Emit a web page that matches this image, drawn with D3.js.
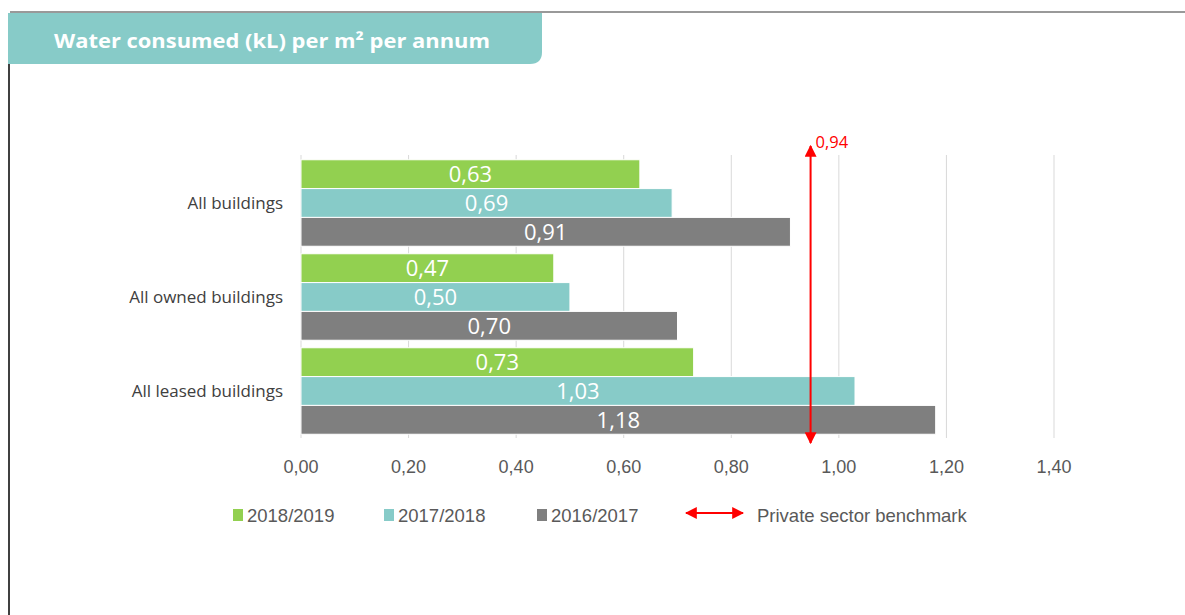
<!DOCTYPE html>
<html lang="en">
<head>
<meta charset="UTF-8">
<title>Water consumed per m2</title>
<style>
  body { margin: 0; background: #fff; }
  svg { display: block; }
</style>
</head>
<body>
<script src="https://cdn.jsdelivr.net/npm/d3@7"></script>
<div id="chart"></div>
<script>
// data
const categories = ["All buildings", "All owned buildings", "All leased buildings"];
const seriesNames = ["2018/2019", "2017/2018", "2016/2017"];
const v2018 = [0.63, 0.47, 0.73];
const v2017 = [0.69, 0.50, 1.03];
const v2016 = [0.91, 0.70, 1.18];
const benchmark = 0.94;
const xTicks = [0, 0.2, 0.4, 0.6, 0.8, 1.0, 1.2, 1.4];
const colors = ["#92d050", "#87cbc8", "#7f7f7f"];

const W = 1185, H = 615;
const fmt = d => d.toFixed(2).replace(".", ",");

const svg = d3.select("#chart").append("svg")
  .attr("width", W).attr("height", H);

// page frame: top rule, left rule, header tab
svg.append("line").attr("x1", 10).attr("x2", W).attr("y1", 12).attr("y2", 12)
  .attr("stroke", "#777").attr("stroke-width", 1.5);
svg.append("line").attr("x1", 9).attr("x2", 9).attr("y1", 62).attr("y2", H)
  .attr("stroke", "#000").attr("stroke-width", 1.5);
svg.append("path")
  .attr("d", "M8,13 H542 V52 Q542,64 530,64 H8 Z")
  .attr("fill", "#87cbc8");
svg.append("text")
  .attr("x", 54).attr("y", 48)
  .attr("fill", "#fff")
  .style("font-family", "'Open Sans', sans-serif")
  .style("font-weight", "bold")
  .style("font-size", "20px")
  .text("Water consumed (kL) per m² per annum")
  .each(function () {
    // stretch to the width the header text takes in the original
    const w = this.getComputedTextLength();
    d3.select(this).attr("textLength", 436).attr("lengthAdjust", "spacingAndGlyphs");
  });

// scales
const x = d3.scaleLinear().domain([0, 1.4]).range([301, 1054]);
const y = d3.scaleBand().domain(categories).range([156, 438]).paddingInner(0.08).paddingOuter(0.04);
const rows = categories.map((c, i) => ({ cat: c, vals: [v2018[i], v2017[i], v2016[i]] }));
const sub = d3.scaleBand().domain(d3.range(3)).range([0, y.bandwidth()]);

// grid
svg.append("g").selectAll("line").data(xTicks).join("line")
  .attr("x1", d => x(d)).attr("x2", d => x(d))
  .attr("y1", 155).attr("y2", 438)
  .attr("stroke", "#d9d9d9").attr("stroke-width", 1);

// tick labels
svg.append("g").selectAll("text").data(xTicks).join("text")
  .attr("x", d => x(d)).attr("y", 473)
  .attr("text-anchor", "middle")
  .attr("fill", "#595959")
  .style("font-family", "'Liberation Sans', sans-serif")
  .style("font-size", "18px")
  .text(fmt);

// category labels
svg.append("g").selectAll("text").data(categories).join("text")
  .attr("x", 283).attr("y", d => y(d) + y.bandwidth() / 2 + 6)
  .attr("text-anchor", "end")
  .attr("fill", "#404040")
  .style("font-family", "'Open Sans', sans-serif")
  .style("font-size", "17px")
  .text(d => d);

// bars
const grp = svg.append("g").selectAll("g").data(rows).join("g")
  .attr("transform", d => `translate(0,${y(d.cat)})`);
grp.selectAll("rect").data(d => d.vals).join("rect")
  .attr("x", x(0)).attr("y", (d, i) => sub(i))
  .attr("width", d => x(d) - x(0)).attr("height", sub.bandwidth())
  .attr("fill", (d, i) => colors[i])
  .attr("stroke", "#fff").attr("stroke-width", 1);
grp.selectAll("text").data(d => d.vals).join("text")
  .attr("x", d => (x(0) + x(d)) / 2)
  .attr("y", (d, i) => sub(i) + sub.bandwidth() / 2 + 8)
  .attr("text-anchor", "middle")
  .attr("fill", "#fff")
  .style("font-family", "'Open Sans', sans-serif")
  .style("font-size", "22px")
  .text(fmt);

// benchmark arrow
const defs = svg.append("defs");
defs.append("marker").attr("id", "ah")
  .attr("viewBox", "0 0 10 10").attr("refX", 9).attr("refY", 5)
  .attr("markerWidth", 6).attr("markerHeight", 6).attr("orient", "auto-start-reverse")
  .append("path").attr("d", "M0,0 L10,5 L0,10 Z").attr("fill", "#ff0000");

const bx = x(benchmark) + 4;
svg.append("line")
  .attr("x1", bx).attr("x2", bx).attr("y1", 146).attr("y2", 443)
  .attr("stroke", "#ff0000").attr("stroke-width", 2)
  .attr("marker-start", "url(#ah)").attr("marker-end", "url(#ah)");
svg.append("text")
  .attr("x", bx + 5).attr("y", 148)
  .attr("fill", "#ff0000")
  .style("font-family", "'Open Sans', sans-serif")
  .style("font-size", "16.5px")
  .text(fmt(benchmark));

// legend
const legend = [
  { label: seriesNames[0], x: 233, c: colors[0] },
  { label: seriesNames[1], x: 384, c: colors[1] },
  { label: seriesNames[2], x: 537, c: colors[2] }
];
const lg = svg.append("g");
lg.selectAll("rect").data(legend).join("rect")
  .attr("x", d => d.x).attr("y", 509).attr("width", 10).attr("height", 12)
  .attr("fill", d => d.c);
lg.selectAll("text.ser").data(legend).join("text").attr("class", "ser")
  .attr("x", d => d.x + 14).attr("y", 522)
  .attr("fill", "#595959")
  .style("font-family", "'Liberation Sans', sans-serif")
  .style("font-size", "18.5px")
  .text(d => d.label);
lg.append("line")
  .attr("x1", 686).attr("x2", 743).attr("y1", 513).attr("y2", 513)
  .attr("stroke", "#ff0000").attr("stroke-width", 2)
  .attr("marker-start", "url(#ah)").attr("marker-end", "url(#ah)");
lg.append("text")
  .attr("x", 757).attr("y", 522)
  .attr("fill", "#595959")
  .style("font-family", "'Liberation Sans', sans-serif")
  .style("font-size", "18.5px")
  .text("Private sector benchmark");
</script>
</body>
</html>
